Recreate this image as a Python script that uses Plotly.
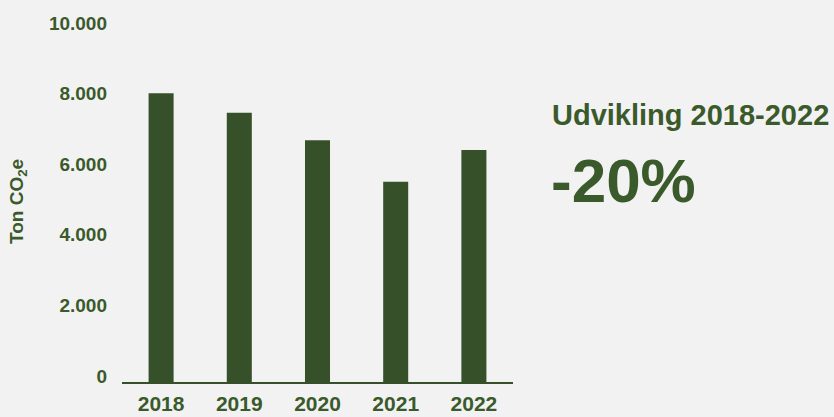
import plotly.graph_objects as go

years = ["2018", "2019", "2020", "2021", "2022"]
emissions = [8180, 7630, 6850, 5670, 6570]
tick_vals = [0, 2000, 4000, 6000, 8000, 10000]
tick_text = ["0", "2.000", "4.000", "6.000", "8.000", "10.000"]
headline = "Udvikling 2018-2022"
change_text = "-20%"
axis_title = "Ton CO<sub>2</sub>e"

GREEN = "#36502a"
TEXT = "#3a5a2c"
BG = "#f2f2f2"
FONT = "Liberation Sans, Arial, sans-serif"

L, R, T, B = 122, 513, 29, 382
PW, PH = R - L, B - T

fig = go.Figure(go.Bar(
    x=years, y=emissions,
    marker=dict(color=GREEN, line=dict(width=0)),
    width=0.32,
))

fig.update_layout(
    width=834, height=417,
    paper_bgcolor=BG, plot_bgcolor=BG,
    margin=dict(l=L, r=834 - R, t=T, b=417 - B, autoexpand=False),
    showlegend=False,
    font=dict(family=FONT, color=TEXT),
    xaxis=dict(
        type="category", range=[-0.5, 4.5], automargin=False,
        showline=True, linecolor=GREEN, linewidth=2,
        showgrid=False, zeroline=False, ticks="",
        tickfont=dict(family=FONT, size=21, color=TEXT, weight="bold"),
        ticklabelstandoff=2,
    ),
    yaxis=dict(
        range=[0, 10000], tickvals=tick_vals, ticktext=tick_text, automargin=False,
        showline=False, showgrid=False, zeroline=False, ticks="",
        tickfont=dict(family=FONT, size=19, color=TEXT, weight="bold"),
        ticklabelshift=-6, ticklabelstandoff=14,
    ),
    annotations=[
        dict(text=axis_title, textangle=-90, xref="paper", yref="paper",
             x=(18 - L) / PW, y=(B - 201) / PH, xanchor="center", yanchor="middle",
             showarrow=False, borderpad=0,
             font=dict(family=FONT, size=19, color=TEXT, weight="bold")),
        dict(text=headline, xref="paper", yref="paper",
             x=(551 - L) / PW, y=(B - 115) / PH, xanchor="left", yanchor="middle",
             showarrow=False, borderpad=0,
             font=dict(family=FONT, size=29, color=TEXT, weight="bold")),
        dict(text=change_text, xref="paper", yref="paper",
             x=(550 - L) / PW, y=(B - 180) / PH, xanchor="left", yanchor="middle",
             showarrow=False, borderpad=0,
             font=dict(family=FONT, size=62, color=TEXT, weight="bold")),
    ],
)

fig.write_html(
    "out.html",
    config={"displayModeBar": False},
    post_script="document.body.style.margin='0';document.body.style.background='#f2f2f2';",
)
